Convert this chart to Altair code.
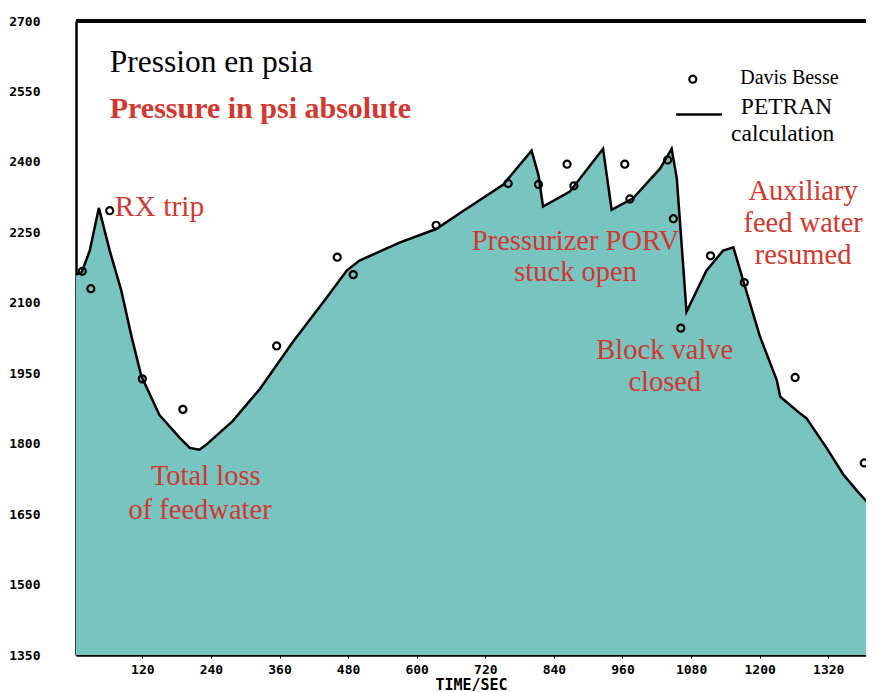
import altair as alt
import pandas as pd

# PETRAN calculation (time in s, pressure in psia)
calc_time = [4, 14, 28, 44, 63, 83, 101, 118, 150, 186, 203, 220, 232, 278, 326, 383,
             443, 478, 500, 570, 634, 676, 751, 801, 813, 821, 868, 926, 941, 979,
             1026, 1046, 1055, 1063, 1072, 1107, 1136, 1154, 1171, 1200, 1230, 1236,
             1271, 1282, 1317, 1346, 1370, 1396]
calc_psi = [2160, 2165, 2211, 2302, 2211, 2127, 2029, 1945, 1861, 1812, 1791, 1787, 1798,
            1848, 1917, 2016, 2112, 2169, 2190, 2228, 2257, 2291, 2351, 2424, 2372, 2305,
            2337, 2428, 2298, 2323, 2386, 2428, 2365, 2232, 2081, 2169, 2211, 2218, 2148,
            2030, 1935, 1900, 1864, 1854, 1791, 1735, 1700, 1665]

# Davis Besse plant data
obs_time = [15, 30, 63, 120, 191, 355, 461, 489, 634, 760, 813, 863, 875, 964, 973,
            1039, 1049, 1062, 1114, 1173, 1262, 1383]
obs_psi = [2167, 2130, 2296, 1938, 1873, 2008, 2197, 2160, 2265, 2354, 2352, 2395, 2349,
           2395, 2321, 2404, 2279, 2046, 2200, 2143, 1941, 1759]

# annotations
left_text = ["RX trip"]
left_time = [72]
left_psi = [2303]

center_text = ["Total loss", "of feedwater", "Pressurizer PORV", "stuck open",
               "Block valve", "closed", "Auxiliary", "feed water", "resumed"]
center_time = [231, 221, 878, 878, 1034, 1034, 1276, 1276, 1276]
center_psi = [1732, 1659, 2232, 2165, 1999, 1932, 2337, 2270, 2202]

title_black = ["Pression en psia"]
title_red = ["Pressure in psi absolute"]
title_time = [63]
title_black_psi = [2610]
title_red_psi = [2513]

legend_circle_time = [1083]
legend_circle_psi = [2576]
legend_text1 = ["Davis Besse"]
legend_text1_time = [1166]
legend_text1_psi = [2578]
legend_text2 = ["PETRAN", "calculation"]
legend_text2_time = [1167, 1150]
legend_text2_psi = [2517, 2459]
legend_line_time = [1054]
legend_line_time2 = [1134]
legend_line_psi = [2501]

TEAL = "#78C4C0"
RED = "#D4372E"
SERIF = "Liberation Serif"
MONO = "DejaVu Sans Mono"

W, H = 790, 634
xs = alt.Scale(domain=[4, 1386], nice=False)
ys = alt.Scale(domain=[1350, 2700], nice=False, zero=False)

calc = pd.DataFrame({"t": calc_time, "p": calc_psi})
obs = pd.DataFrame({"t": obs_time, "p": obs_psi})

xaxis = alt.Axis(values=[120, 240, 360, 480, 600, 720, 840, 960, 1080, 1200, 1320],
                 format="d",
                 title="TIME/SEC", labelFont=MONO, labelFontWeight="bold", labelFontSize=13,
                 labelColor="black", titleFont=MONO, titleFontWeight="bold", titleFontSize=15,
                 titleColor="black", titlePadding=1, tickSize=3, tickColor="black",
                 labelPadding=5, domainColor="black", domainWidth=2.5, grid=False)
yaxis = alt.Axis(values=[1350, 1500, 1650, 1800, 1950, 2100, 2250, 2400, 2550, 2700],
                 title=None, format="d", labelFont=MONO, labelFontWeight="bold",
                 labelFontSize=13, labelColor="black", tickSize=0, labelPadding=36,
                 domainColor="black", domainWidth=2.5, grid=False)

area = alt.Chart(calc).mark_area(color=TEAL, clip=True).encode(
    x=alt.X("t:Q", scale=xs, axis=xaxis),
    y=alt.Y("p:Q", scale=ys, axis=yaxis),
    y2=alt.datum(1350),
)
line = alt.Chart(calc).mark_line(color="black", strokeWidth=2.5, clip=True).encode(
    x=alt.X("t:Q", scale=xs), y=alt.Y("p:Q", scale=ys))
pts = alt.Chart(obs).mark_point(shape="circle", filled=False, stroke="black", opacity=1,
                                strokeWidth=2.2, size=50, clip=True).encode(
    x=alt.X("t:Q", scale=xs), y=alt.Y("p:Q", scale=ys))

top_rule = alt.Chart(calc).mark_rule(color="black", strokeWidth=2.5).encode(
    x=alt.value(0), x2=alt.value(W), y=alt.value(0))

def text_layer(texts, times, psis, **kw):
    df = pd.DataFrame({"label": texts, "t": times, "p": psis})
    return alt.Chart(df).mark_text(**kw).encode(
        x=alt.X("t:Q", scale=xs), y=alt.Y("p:Q", scale=ys), text="label:N")

t_black = text_layer(title_black, title_time, title_black_psi, align="left", baseline="middle",
                     font=SERIF, fontSize=31.5, color="black")
t_red = text_layer(title_red, title_time, title_red_psi, align="left", baseline="middle",
                   font=SERIF, fontSize=30, fontWeight="bold", color=RED)
t_left = text_layer(left_text, left_time, left_psi, align="left", baseline="middle",
                    font=SERIF, fontSize=29.5, color=RED)
t_center = text_layer(center_text, center_time, center_psi, align="center", baseline="middle",
                      font=SERIF, fontSize=28.5, color=RED)
leg1 = text_layer(legend_text1, legend_text1_time, legend_text1_psi, align="left",
                  baseline="middle", font=SERIF, fontSize=20, color="black")
leg2 = text_layer(legend_text2, legend_text2_time, legend_text2_psi, align="left",
                  baseline="middle", font=SERIF, fontSize=23.5, color="black")
leg_pt = alt.Chart(pd.DataFrame({"t": legend_circle_time, "p": legend_circle_psi})).mark_point(
    shape="circle", filled=False, stroke="black", opacity=1, strokeWidth=2.2, size=50).encode(
    x=alt.X("t:Q", scale=xs), y=alt.Y("p:Q", scale=ys))
leg_line = alt.Chart(pd.DataFrame({"t": legend_line_time, "t2": legend_line_time2,
                                   "p": legend_line_psi})).mark_rule(
    color="black", strokeWidth=2.5).encode(
    x=alt.X("t:Q", scale=xs), x2="t2:Q", y=alt.Y("p:Q", scale=ys))

chart = alt.layer(area, line, pts, top_rule, t_black, t_red, t_left, t_center,
                  leg1, leg2, leg_pt, leg_line).properties(
    width=W, height=H,
    autosize=alt.AutoSizeParams(type="none"),
    padding={"left": 68, "top": 13, "right": 0, "bottom": 41},
    background="white",
).configure_view(stroke=None)

chart.save("out.html", embed_options={"renderer": "svg", "actions": False})
